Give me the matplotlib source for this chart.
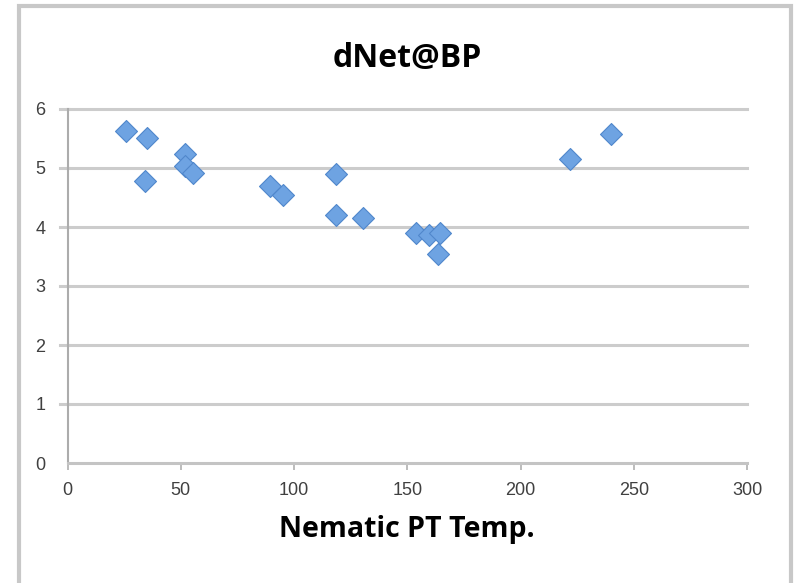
import matplotlib.pyplot as plt
from matplotlib.patches import Rectangle

# data
temp = [26, 35, 34, 52, 52, 55.5, 89.5, 95, 118.5, 118.5, 130.5, 154, 159.5, 164.5, 163.5, 222, 240]
dnet = [5.62, 5.51, 4.78, 5.24, 5.03, 4.92, 4.70, 4.54, 4.90, 4.20, 4.16, 3.90, 3.86, 3.90, 3.54, 5.15, 5.58]

xticks = [0, 50, 100, 150, 200, 250, 300]
yticks = [0, 1, 2, 3, 4, 5, 6]

W, H = 794, 583
fig = plt.figure(figsize=(W / 100, H / 100), dpi=100)
# outer chart frame (bottom edge runs off the picture)
fig.patches.append(Rectangle((19 / W, -10 / H), 772 / W, 587 / H, transform=fig.transFigure,
                             fill=False, edgecolor='#c8c8c8', linewidth=3))

ax = fig.add_axes([67.5 / W, 120 / H, 679.5 / W, 354 / H])
ax.set_xlim(0, 300)
ax.set_ylim(0, 6)
ax.set_xticks(xticks)
ax.set_yticks(yticks)

for y in yticks[1:]:
    ax.axhline(y, color='#cccccc', linewidth=2.2, zorder=1, clip_on=False)
    ax.plot([-3.5, 0], [y, y], color='#cccccc', linewidth=2.2, clip_on=False, zorder=1)

ax.scatter(temp, dnet, marker='D', s=125, color='#6ea3e2', edgecolors='#5087cc',
           linewidths=0.8, zorder=3)

for side in ['top', 'right']:
    ax.spines[side].set_visible(False)
ax.spines['left'].set_color('#acacac')
ax.spines['left'].set_linewidth(1.5)
ax.spines['bottom'].set_color('#c4c4c4')
ax.spines['bottom'].set_linewidth(2.2)
ax.tick_params(axis='both', colors='#b0b0b0', labelcolor='#404040', labelsize=13, length=5, width=1.2)
ax.tick_params(axis='x', pad=9)
ax.tick_params(axis='y', pad=16, length=0)
for lab in ax.get_xticklabels() + ax.get_yticklabels():
    lab.set_family(['Liberation Sans Narrow', 'Liberation Sans'])

fig.text(407 / W, (H - 67) / H, 'dNet@BP', ha='center', va='baseline', fontsize=23,
         fontweight='bold', family='Open Sans')
fig.text(407 / W, (H - 537) / H, 'Nematic PT Temp.', ha='center', va='baseline', fontsize=20.5,
         fontweight='bold', family='Open Sans')

fig.savefig('out.png', dpi=100)
